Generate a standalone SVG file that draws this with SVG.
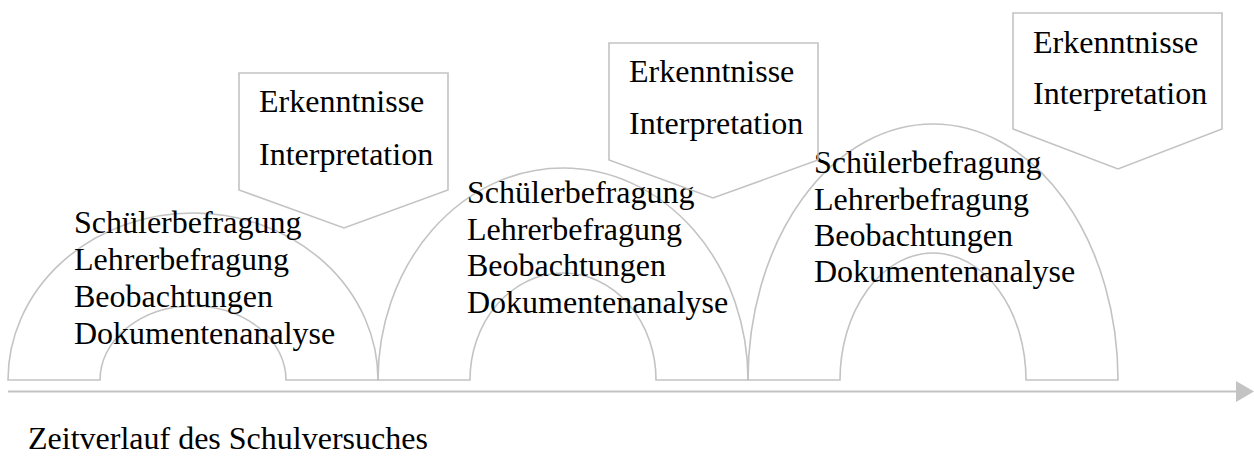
<svg xmlns="http://www.w3.org/2000/svg" width="1254" height="457" viewBox="0 0 1254 457">
<style>
.shape{fill:none;stroke:#c3c3c3;stroke-width:1.6;stroke-linejoin:miter}
.t{font-family:"Liberation Serif","Times New Roman",serif;font-size:32px;fill:#000}
.axis{stroke:#c3c3c3;stroke-width:2.2;fill:none}
.head{fill:#c3c3c3}
</style>
<rect width="1254" height="457" fill="#fff"/>
<g id="arch1">
<path class="shape" d="M8 380 A185 167 0 0 1 378 380 L286 380 A93 74 0 0 0 100 380 Z"/>
<text class="t" x="74" y="233">Schülerbefragung</text>
<text class="t" x="74" y="270">Lehrerbefragung</text>
<text class="t" x="74" y="307">Beobachtungen</text>
<text class="t" x="74" y="344">Dokumentenanalyse</text>
</g>
<g id="arch2">
<path class="shape" d="M378 380 A185 212 0 0 1 748 380 L656 380 A93 107 0 0 0 470 380 Z"/>
<text class="t" x="467" y="203">Schülerbefragung</text>
<text class="t" x="467" y="240">Lehrerbefragung</text>
<text class="t" x="467" y="276">Beobachtungen</text>
<text class="t" x="467" y="313">Dokumentenanalyse</text>
</g>
<g id="arch3">
<path class="shape" d="M748 380 A185 256 0 0 1 1118 380 L1026 380 A93 127 0 0 0 840 380 Z"/>
<text class="t" x="814" y="173">Schülerbefragung</text>
<text class="t" x="814" y="210">Lehrerbefragung</text>
<text class="t" x="814" y="246">Beobachtungen</text>
<text class="t" x="814" y="282">Dokumentenanalyse</text>
</g>
<g id="box1">
<polygon class="shape" points="239,73 448,73 448,190 344,228 239,190"/>
<text class="t" x="259" y="112">Erkenntnisse</text>
<text class="t" x="259" y="165">Interpretation</text>
</g>
<g id="box2">
<polygon class="shape" points="609,43 818,43 818,160 713,198 609,160"/>
<text class="t" x="629" y="82">Erkenntnisse</text>
<text class="t" x="629" y="134">Interpretation</text>
</g>
<g id="box3">
<polygon class="shape" points="1013,13 1222,13 1222,129 1118,169 1013,129"/>
<text class="t" x="1033" y="53">Erkenntnisse</text>
<text class="t" x="1033" y="104">Interpretation</text>
</g>
<g id="connectors">
<line class="axis" x1="8" y1="391.5" x2="1237" y2="391.5"/>
<polygon class="head" points="1236,381 1254,391.5 1236,402"/>
</g>
<g id="title">
<text class="t" x="28" y="449">Zeitverlauf des Schulversuches</text>
</g>
</svg>
